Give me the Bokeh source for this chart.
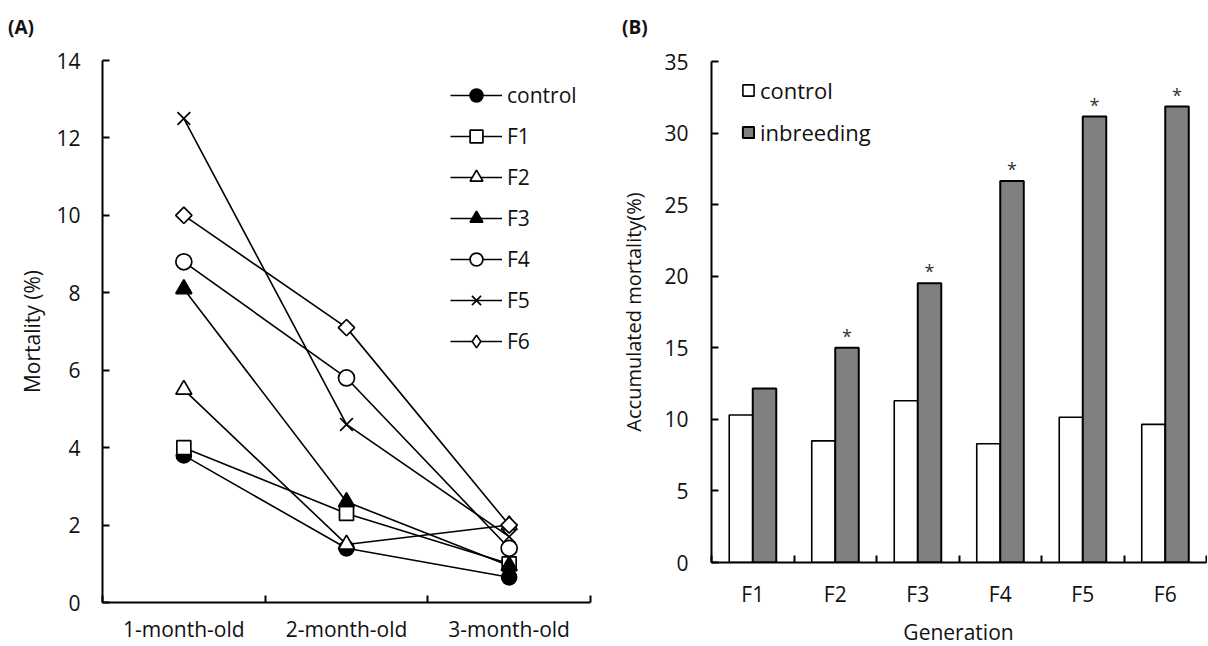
import math
from bokeh.plotting import figure
from bokeh.layouts import row, column
from bokeh.models import Range1d, FixedTicker, Legend, LegendItem, ColumnDataSource, Div
from bokeh.transform import dodge
from bokeh.core.properties import value
from bokeh.embed import file_html
from bokeh.resources import INLINE

# ---------------- data ----------------
ages = ["1-month-old", "2-month-old", "3-month-old"]
series_names = ["control", "F1", "F2", "F3", "F4", "F5", "F6"]
mort_control = [3.8, 1.4, 0.65]
mort_F1 = [4.0, 2.3, 1.0]
mort_F2 = [5.5, 1.5, 2.0]
mort_F3 = [8.1, 2.6, 0.95]
mort_F4 = [8.8, 5.8, 1.4]
mort_F5 = [12.5, 4.6, 1.7]
mort_F6 = [10.0, 7.1, 2.0]
mortality_ticks = [0, 2, 4, 6, 8, 10, 12, 14]

generations = ["F1", "F2", "F3", "F4", "F5", "F6"]
acc_control = [10.3, 8.5, 11.3, 8.3, 10.15, 9.65]
acc_inbreeding = [12.15, 15.0, 19.5, 26.65, 31.15, 31.85]
significance = ["", "*", "*", "*", "*", "*"]
acc_ticks = [0, 5, 10, 15, 20, 25, 30, 35]

FONT = "Open Sans"
TXT = "#111111"


def style_axes(p, label_size="21px"):
    p.xgrid.visible = False
    p.ygrid.visible = False
    p.outline_line_color = None
    for ax in (p.xaxis[0], p.yaxis[0]):
        ax.axis_line_color = "black"
        ax.axis_line_width = 2
        ax.major_label_text_font = FONT
        ax.major_label_text_font_size = "21px"
        ax.major_label_text_color = TXT
        ax.axis_label_text_font = FONT
        ax.axis_label_text_font_size = label_size
        ax.axis_label_text_font_style = "normal"
        ax.axis_label_text_color = TXT
    p.yaxis.major_tick_in = 7
    p.yaxis.major_tick_out = 0
    p.yaxis.major_tick_line_width = 2
    p.yaxis.minor_tick_line_color = None
    p.xaxis.major_tick_line_color = None
    p.xaxis.minor_tick_in = 7
    p.xaxis.minor_tick_out = 0
    p.xaxis.minor_tick_line_width = 2
    p.xaxis.minor_tick_line_color = "black"


def label_div(text, width, height, pad_left, pad_top, bold=False, size=20, extra=""):
    weight = "bold" if bold else "normal"
    html = (f'<div style="font-family:\'{FONT}\'; font-weight:{weight}; font-size:{size}px; '
            f'color:{TXT}; line-height:normal; padding-left:{pad_left}px; padding-top:{pad_top}px; '
            f'margin:0; white-space:nowrap; {extra}">{text}</div>')
    return Div(text=html, width=width, height=height, margin=0)


# ---------------- panel A ----------------
pa = figure(width=600, height=605, output_backend="svg", toolbar_location=None,
            x_range=Range1d(0, len(ages)), y_range=Range1d(0, 14),
            min_border_left=102, min_border_right=10, min_border_top=20, min_border_bottom=43)
style_axes(pa, "21px")
centers_a = [i + 0.5 for i in range(len(ages))]
pa.xaxis.ticker = FixedTicker(ticks=centers_a, minor_ticks=list(range(len(ages) + 1)))
pa.xaxis.major_label_overrides = {c: a for c, a in zip(centers_a, ages)}
pa.xaxis.major_label_standoff = 6
pa.yaxis.ticker = FixedTicker(ticks=mortality_ticks)
pa.yaxis.major_label_standoff = 22
pa.yaxis.axis_label = "Mortality (%)"
pa.yaxis.axis_label_standoff = 7

src_a = ColumnDataSource(dict(x=centers_a, s_control=mort_control, s_F1=mort_F1, s_F2=mort_F2,
                              s_F3=mort_F3, s_F4=mort_F4, s_F5=mort_F5, s_F6=mort_F6))

marker_specs = {
    "control": dict(marker="circle", size=15, fill_color="black", angle=0),
    "F1": dict(marker="square", size=14, fill_color="white", angle=0),
    "F2": dict(marker="triangle", size=16, fill_color="white", angle=0),
    "F3": dict(marker="triangle", size=16, fill_color="black", angle=0),
    "F4": dict(marker="circle", size=16, fill_color="white", angle=0),
    "F5": dict(marker="x", size=18, fill_color="white", angle=0),
    "F6": dict(marker="square", size=11.5, fill_color="white", angle=math.pi / 4),
}

line_rs = {}
for name in series_names:
    line_rs[name] = pa.line(x="x", y="s_" + name, source=src_a, line_color="black", line_width=1.6)
scat_rs = {}
for name in series_names:
    spec = marker_specs[name]
    scat_rs[name] = pa.scatter(x="x", y="s_" + name, source=src_a, marker=spec["marker"],
                               size=spec["size"], angle=spec["angle"], fill_color=spec["fill_color"],
                               line_color="black", line_width=1.7)
# legend-only diamond glyph for F6 (legend swatches ignore marker angle)
f6_legend = pa.scatter(x="x", y="s_F6", source=src_a, marker="diamond", size=16,
                       fill_color="white", line_color="black", line_width=1.6, visible=False)

legend_renderers = {n: [line_rs[n], scat_rs[n]] for n in series_names}
legend_renderers["F6"] = [line_rs["F6"], f6_legend]

leg_a = Legend(items=[LegendItem(label=value(n), renderers=legend_renderers[n]) for n in series_names],
               location=(348, 245), glyph_width=52, glyph_height=32, label_height=32, spacing=9,
               padding=0, margin=0, label_standoff=5, border_line_color=None,
               background_fill_alpha=0, label_text_font=FONT, label_text_font_size="21px",
               label_text_color=TXT)
pa.add_layout(leg_a)

# ---------------- panel B ----------------
pb = figure(width=607, height=570, output_backend="svg", toolbar_location=None,
            x_range=Range1d(0, len(generations)), y_range=Range1d(0, 35),
            min_border_left=111, min_border_right=1, min_border_top=21, min_border_bottom=47)
style_axes(pb, "20px")
centers_b = [i + 0.5 for i in range(len(generations))]
pb.xaxis.ticker = FixedTicker(ticks=centers_b, minor_ticks=list(range(len(generations) + 1)))
pb.xaxis.major_label_overrides = {c: g for c, g in zip(centers_b, generations)}
pb.xaxis.major_label_standoff = 11
pb.yaxis.ticker = FixedTicker(ticks=acc_ticks)
pb.yaxis.major_label_standoff = 23
pb.yaxis.axis_label = "Accumulated mortality(%)"
pb.yaxis.axis_label_standoff = 14

BW = 0.285
src_b = ColumnDataSource(dict(x=centers_b, gen=generations, v_control=acc_control,
                              v_inbreeding=acc_inbreeding, sig=significance))
r_ctrl = pb.vbar(x=dodge("x", -BW / 2), top="v_control", width=BW, source=src_b,
                 fill_color="white", line_color="black", line_width=1.6)
r_inb = pb.vbar(x=dodge("x", BW / 2), top="v_inbreeding", width=BW, source=src_b,
                fill_color="#808080", line_color="black", line_width=2)
pb.text(x=dodge("x", BW / 2), y="v_inbreeding", text="sig", source=src_b,
        text_font=value(FONT), text_font_size="18px", text_color="#333333",
        text_align="center", text_baseline="middle", y_offset=-12)

leg_b = Legend(items=[LegendItem(label=value("control"), renderers=[r_ctrl]),
                      LegendItem(label=value("inbreeding"), renderers=[r_inb])],
               location=(30, 415), glyph_width=14, glyph_height=14, label_height=28, spacing=12,
               padding=0, margin=0, label_standoff=5, border_line_color=None,
               background_fill_alpha=0, label_text_font=FONT, label_text_font_size="22px",
               label_text_color=TXT)
pb.add_layout(leg_b)

# ---------------- panel letters and B's x-axis title ----------------
div_a = label_div("(A)", 600, 40, 8, 14, bold=True, size=19)
div_b = label_div("(B)", 607, 40, 22, 14, bold=True, size=19)
div_gen = label_div("Generation", 607, 35, 110, 8, size=21,
                    extra="box-sizing:border-box; width:607px; text-align:center;")

layout = row(column(div_a, pa), column(div_b, pb, div_gen))
open("out.html", "w").write(file_html(layout, INLINE))
